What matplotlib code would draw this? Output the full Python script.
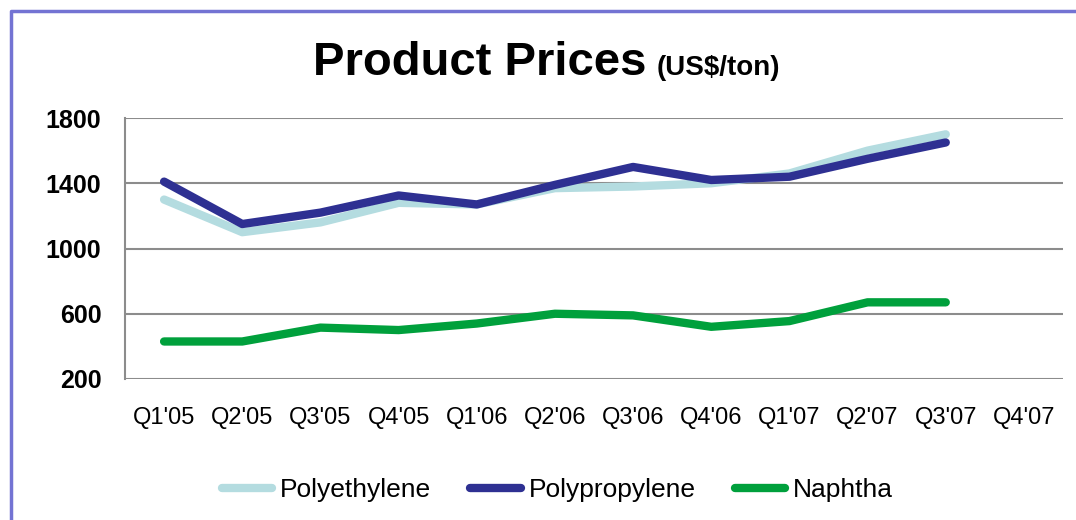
import matplotlib
matplotlib.use("Agg")
import matplotlib.pyplot as plt
from matplotlib.lines import Line2D

plt.rcParams["font.family"] = ["Liberation Sans", "DejaVu Sans"]

# Data
quarters = ["Q1'05", "Q2'05", "Q3'05", "Q4'05", "Q1'06", "Q2'06",
            "Q3'06", "Q4'06", "Q1'07", "Q2'07", "Q3'07", "Q4'07"]
polyethylene = [1300, 1100, 1160, 1280, 1270, 1370, 1380, 1400, 1460, 1600, 1700]
polypropylene = [1410, 1150, 1220, 1325, 1270, 1390, 1500, 1420, 1440, 1550, 1650]
naphtha = [430, 430, 515, 500, 540, 600, 590, 520, 555, 670, 670]
yticks = [200, 600, 1000, 1400, 1800]

COLOR_PE = "#b4dce0"
COLOR_PP = "#2e3092"
COLOR_NAP = "#00a03c"
GRID = "#8c8c8c"

fig = plt.figure(figsize=(10.76, 5.2), dpi=100)
ax = fig.add_axes([125 / 1076, 1 - 379 / 520, (1063 - 125) / 1076, (379 - 118) / 520])

x = list(range(len(quarters)))
n = len(polyethylene)
ax.plot(x[:n], polyethylene, color=COLOR_PE, lw=6, solid_capstyle="round",
        label="Polyethylene", zorder=3)
ax.plot(x[:n], polypropylene, color=COLOR_PP, lw=6, solid_capstyle="round",
        label="Polypropylene", zorder=4)
ax.plot(x[:n], naphtha, color=COLOR_NAP, lw=6, solid_capstyle="round",
        label="Naphtha", zorder=4)

ax.set_xlim(-0.5, len(quarters) - 0.5)
ax.set_ylim(200, 1800)
ax.set_yticks(yticks)
ax.set_yticklabels([str(v) for v in yticks], fontsize=18, fontweight="bold")
ax.set_xticks(x)
ax.set_xticklabels(quarters, fontsize=17)
ax.tick_params(axis="both", length=0)
ax.tick_params(axis="y", pad=17)
ax.tick_params(axis="x", pad=20)

for s in ["top", "right", "bottom"]:
    ax.spines[s].set_visible(False)
ax.spines["left"].set_color(GRID)
ax.spines["left"].set_linewidth(1.5)
ax.grid(True, axis="y", color=GRID, linewidth=1.5)
ax.set_axisbelow(True)

# Title in two parts
fig.text(313 / 1076, 1 - 75 / 520, "Product Prices", fontsize=34,
         fontweight="bold", ha="left", va="baseline")
fig.text(657 / 1076, 1 - 75 / 520, "(US$/ton)", fontsize=20,
         fontweight="bold", ha="left", va="baseline")

fig.legend(loc="center", bbox_to_anchor=(0.518, 1 - 490 / 520), ncol=3,
           frameon=False, fontsize=19, handlelength=1.9, handletextpad=0.3,
           columnspacing=1.5)

# Frame around the slide region
fig.add_artist(Line2D([11 / 1076, 11 / 1076, 1.0], [0.0, 1 - 11 / 520, 1 - 11 / 520],
                      transform=fig.transFigure, color="#7373d3", lw=2.5))

fig.savefig("out.png", dpi=100)
